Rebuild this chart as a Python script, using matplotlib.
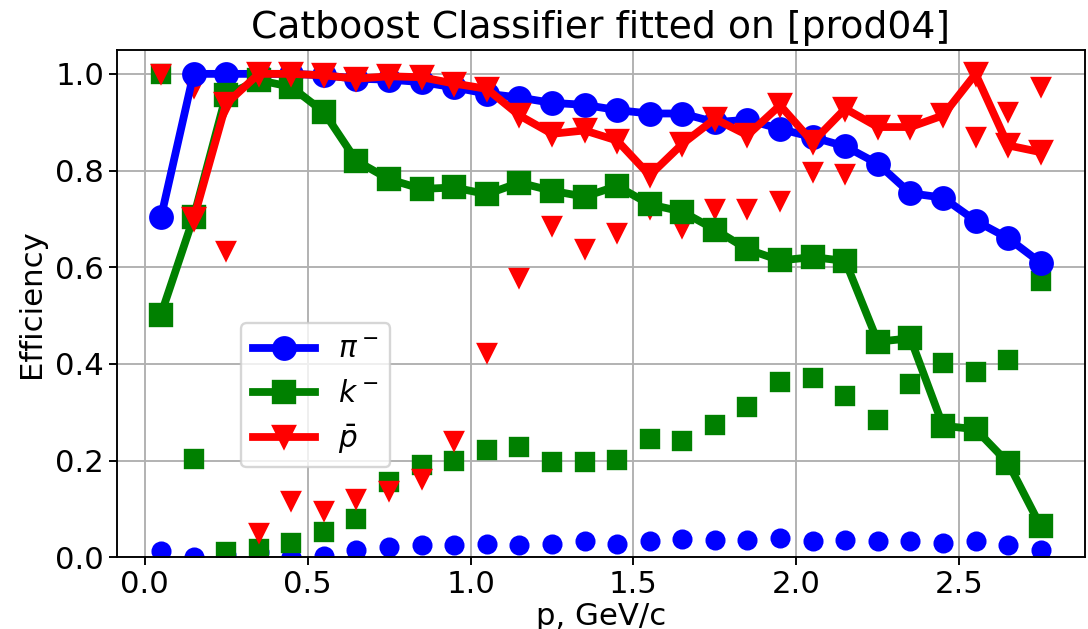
import matplotlib
matplotlib.use('Agg')
import matplotlib.pyplot as plt
import numpy as np

p = np.arange(0.05, 2.8, 0.1)

# efficiency (lines)
eff_pi = [0.703, 1.0, 1.0, 1.0, 1.0, 0.997, 0.99, 0.988, 0.983, 0.972,
          0.959, 0.951, 0.940, 0.936, 0.925, 0.918, 0.918, 0.900, 0.905, 0.886,
          0.869, 0.850, 0.814, 0.753, 0.744, 0.696, 0.660, 0.609]
eff_k = [0.502, 0.703, 0.956, 0.987, 0.973, 0.921, 0.820, 0.782, 0.762, 0.765,
         0.751, 0.775, 0.758, 0.746, 0.768, 0.730, 0.715, 0.678, 0.637, 0.614,
         0.621, 0.613, 0.446, 0.453, 0.272, 0.265, 0.195, 0.064]
eff_p = [np.nan, 0.699, 0.938, 1.0, 1.0, 0.997, 0.99, 0.995, 0.993, 0.98,
         0.969, 0.914, 0.876, 0.883, 0.862, 0.790, 0.855, 0.907, 0.873, 0.935,
         0.859, 0.928, 0.890, 0.890, 0.914, 1.0, 0.852, 0.838]

# second set (markers only)
sc_pi = [0.013, 0.0, 0.005, 0.01, 0.0, 0.003, 0.015, 0.022, 0.025, 0.025,
         0.027, 0.025, 0.028, 0.033, 0.028, 0.033, 0.037, 0.036, 0.036, 0.040,
         0.033, 0.036, 0.033, 0.033, 0.029, 0.034, 0.025, 0.015]
sc_k = [1.0, 0.204, 0.01, 0.017, 0.029, 0.053, 0.079, 0.155, 0.19, 0.2,
        0.222, 0.229, 0.198, 0.198, 0.202, 0.245, 0.24, 0.273, 0.311, 0.362,
        0.37, 0.334, 0.283, 0.358, 0.401, 0.384, 0.408, 0.571]
sc_p = [1.0, 0.97, 0.633, 0.051, 0.117, 0.096, 0.12, 0.138, 0.162, 0.24,
        0.422, 0.578, 0.685, 0.637, 0.671, 0.72, 0.682, 0.72, 0.72, 0.737,
        0.796, 0.793, np.nan, np.nan, np.nan, 0.869, 0.921, 0.973]

plt.rcParams['font.size'] = 13
plt.rcParams['axes.titlesize'] = 16

fig = plt.figure(figsize=(6.4, 3.7), dpi=170)
ax = fig.add_subplot(111)
fig.subplots_adjust(left=0.1075, right=0.997, top=0.921, bottom=0.114)

ax.plot(p, sc_pi, 'o', color='b', markersize=7.5)
ax.plot(p, sc_k, 's', color='g', markersize=7.5)
ax.plot(p, sc_p, 'v', color='r', markersize=7.5)

ax.plot(p, eff_pi, 'o-', color='b', lw=3.3, markersize=9.5, label=r'$\pi^-$')
ax.plot(p, eff_k, 's-', color='g', lw=3.3, markersize=9.5, label=r'$k^-$')
ax.plot(p, eff_p, 'v-', color='r', lw=3.3, markersize=9.5, label=r'$\bar{p}$')

ax.set_ylim(0, 1.05)
ax.set_title('Catboost Classifier fitted on [prod04]', pad=5)
ax.set_xlabel('p, GeV/c', labelpad=1)
ax.set_ylabel('Efficiency')
ax.tick_params(pad=2)
ax.grid()
ax.legend(loc='lower left', bbox_to_anchor=(0.128, 0.177), borderaxespad=0,
          fontsize=12.5, handlelength=2.1)

fig.savefig('out.png', dpi=170)
